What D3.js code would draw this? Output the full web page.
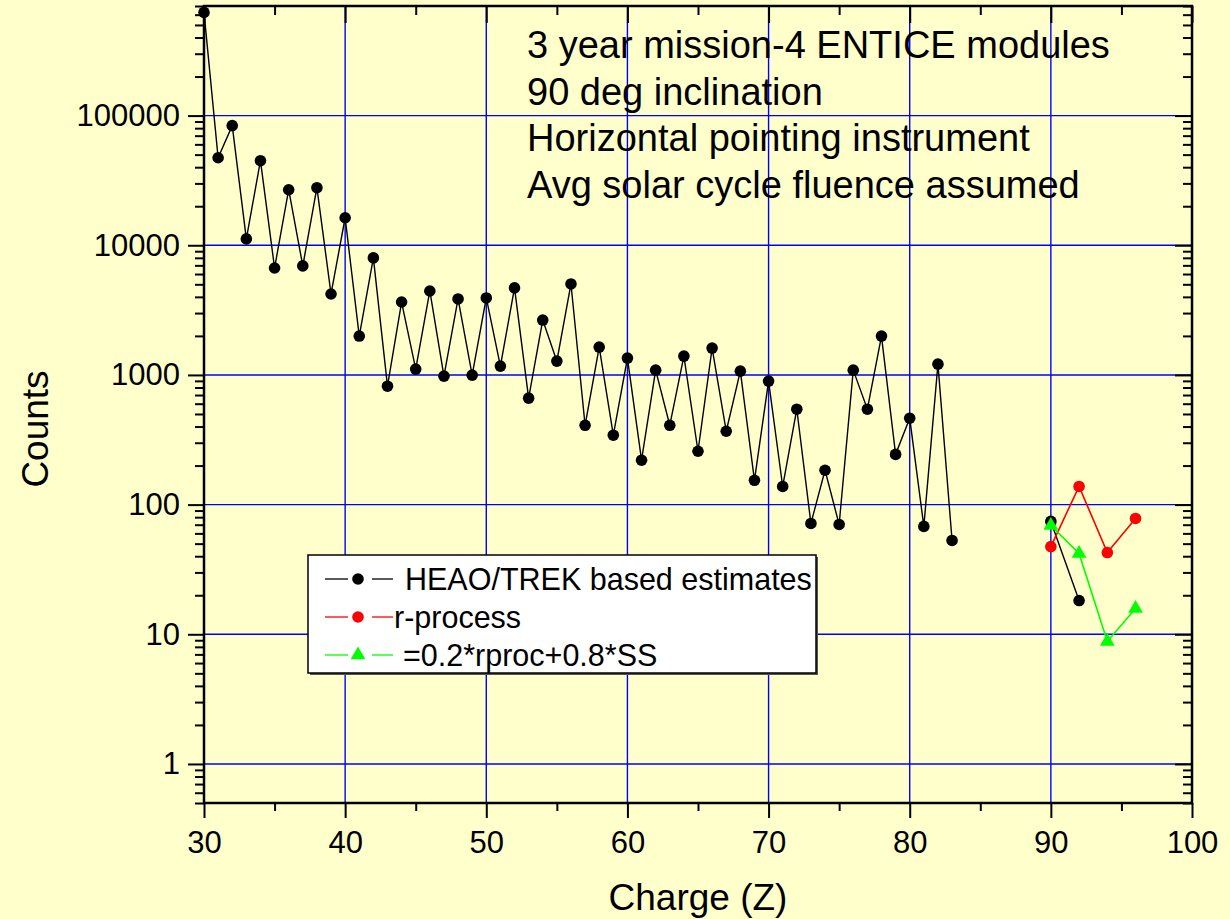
<!DOCTYPE html>
<html>
<head>
<meta charset="utf-8">
<script src="https://cdn.jsdelivr.net/npm/d3@7"></script>
<style>
  html, body { margin: 0; padding: 0; background: #ffffcc; }
  svg { display: block; font-family: "Liberation Sans", Arial, sans-serif; }
</style>
</head>
<body>
<div id="chart"></div>
<script>
// charge values (Z) and counts
var heaoZ = [30,31,32,33,34,35,36,37,38,39,40,41,42,43,44,45,46,47,48,49,50,51,52,53,54,55,56,57,58,59,
             60,61,62,63,64,65,66,67,68,69,70,71,72,73,74,75,76,77,78,79,80,81,82,83,90,92];
var heaoCounts = [625000,47300,83700,11200,44900,6680,26800,6930,27800,4210,16300,1995,7990,819,3650,1109,4440,979,3854,996,
                  3925,1170,4690,662,2650,1278,5030,409,1640,343,1349,220,1089,409,1397,258,1611,368,1070,154,
                  896,138,544,71.6,184,70.3,1089,544,1995,244,464,67.9,1211,52.9,74.2,18.2];
var rprocZ = [90,92,94,96];
var rprocCounts = [47.5,138,42.7,78.2];
var mixZ = [90,92,94,96];
var mixCounts = [69,42,8.8,15.8];

var xTicks = [30,40,50,60,70,80,90,100];
var xMinor = [35,45,55,65,75,85,95];
var yTicks = [1,10,100,1000,10000,100000];
var legendLabels = ["HEAO/TREK based estimates","r-process","=0.2*rproc+0.8*SS"];
var noteLines = ["3 year mission-4 ENTICE modules","90 deg inclination","Horizontal pointing instrument","Avg solar cycle fluence assumed"];

var width = 1230, height = 919;
var mLeft = 204, mRight = 1192, mTop = 6, mBottom = 803;

var svg = d3.select("#chart").append("svg")
    .attr("width", width).attr("height", height);

svg.append("rect").attr("width", width).attr("height", height).attr("fill", "#ffffcc");

var x = d3.scaleLinear().domain([30,100]).range([mLeft,mRight]);
var y = d3.scaleLog().domain([0.5,700000]).range([mBottom,mTop]);

// minor log ticks
var yMinor = [];
[0.1,1,10,100,1000,10000,100000].forEach(function(d){
    for (var k=2;k<=9;k++){ var v=+(d*k).toPrecision(3); if (v>=0.5 && v<=700000) yMinor.push(v); }
});

// grid
var grid = svg.append("g");
grid.selectAll(".gx").data(xTicks.slice(1,-1)).enter().append("line")
    .attr("x1", function(d){return x(d);}).attr("x2", function(d){return x(d);})
    .attr("y1", mTop).attr("y2", mBottom)
    .attr("stroke", "#0000ff").attr("stroke-width", 1.4);
grid.selectAll(".gy").data(yTicks).enter().append("line")
    .attr("x1", mLeft).attr("x2", mRight)
    .attr("y1", function(d){return y(d);}).attr("y2", function(d){return y(d);})
    .attr("stroke", "#0000ff").attr("stroke-width", 1.4);

var tickFont = function(g){
    g.selectAll("text").attr("font-size", 31).attr("fill", "#000").attr("font-family", "Liberation Sans, Arial, sans-serif");
    g.selectAll("line").attr("stroke", "#000").attr("stroke-width", 2);
    g.select(".domain").remove();
};

// bottom axis
svg.append("g").attr("transform","translate(0,"+mBottom+")")
    .call(d3.axisBottom(x).tickValues(xTicks).tickSize(15).tickPadding(13).tickFormat(d3.format("d")))
    .call(tickFont);
svg.append("g").attr("transform","translate(0,"+mBottom+")")
    .call(d3.axisBottom(x).tickValues(xMinor).tickSize(8).tickFormat(""))
    .call(tickFont);
// top axis (inward)
svg.append("g").attr("transform","translate(0,"+mTop+")")
    .call(d3.axisBottom(x).tickValues(xTicks).tickSize(17).tickFormat(""))
    .call(tickFont);
svg.append("g").attr("transform","translate(0,"+mTop+")")
    .call(d3.axisBottom(x).tickValues(xMinor).tickSize(9).tickFormat(""))
    .call(tickFont);
// left axis
svg.append("g").attr("transform","translate("+mLeft+",0)")
    .call(d3.axisLeft(y).tickValues(yTicks).tickSize(16).tickPadding(8).tickFormat(d3.format("d")))
    .call(tickFont);
svg.append("g").attr("transform","translate("+mLeft+",0)")
    .call(d3.axisLeft(y).tickValues(yMinor).tickSize(9).tickFormat(""))
    .call(tickFont);
// right axis (inward)
svg.append("g").attr("transform","translate("+mRight+",0)")
    .call(d3.axisLeft(y).tickValues(yTicks).tickSize(17).tickFormat(""))
    .call(tickFont);
svg.append("g").attr("transform","translate("+mRight+",0)")
    .call(d3.axisLeft(y).tickValues(yMinor).tickSize(9).tickFormat(""))
    .call(tickFont);

// frame
svg.append("rect").attr("x", mLeft).attr("y", mTop).attr("width", mRight-mLeft).attr("height", mBottom-mTop)
    .attr("fill", "none").attr("stroke", "#000").attr("stroke-width", 2.5);

// axis titles
svg.append("text").attr("x", 698).attr("y", 910).attr("text-anchor","middle")
    .attr("font-size", 37).text("Charge (Z)");
svg.append("text").attr("transform","translate(48,429) rotate(-90)").attr("text-anchor","middle")
    .attr("font-size", 37).text("Counts");

// annotation
svg.append("g").selectAll("text").data(noteLines).enter().append("text")
    .attr("x", 527).attr("y", function(d,i){return 58 + i*46.5;})
    .attr("font-size", 38).text(function(d){return d;});

// series
function pts(zs, cs){ return zs.map(function(z,i){return {z:z, c:cs[i]};}); }
var line = d3.line().x(function(d){return x(d.z);}).y(function(d){return y(d.c);});

function segments(p){
    var out = [], cur = [p[0]];
    for (var i=1;i<p.length;i++){
        if (p[i].z - p[i-1].z > 2){ out.push(cur); cur = []; }
        cur.push(p[i]);
    }
    out.push(cur);
    return out;
}

var heao = pts(heaoZ, heaoCounts), rproc = pts(rprocZ, rprocCounts), mix = pts(mixZ, mixCounts);

var series = [
    {data: heao, color: "#000000", width: 1.4, shape: "circle"},
    {data: rproc, color: "#ff0000", width: 1.6, shape: "circle"},
    {data: mix, color: "#00ff00", width: 1.6, shape: "triangle"}
];

var plot = svg.append("g");
series.forEach(function(s){
    plot.append("g").selectAll("path").data(segments(s.data)).enter().append("path")
        .attr("d", line).attr("fill","none").attr("stroke", s.color).attr("stroke-width", s.width);
});
series.forEach(function(s){
    var g = plot.append("g");
    if (s.shape === "circle"){
        g.selectAll("circle").data(s.data).enter().append("circle")
            .attr("cx", function(d){return x(d.z);}).attr("cy", function(d){return y(d.c);})
            .attr("r", 5.8).attr("fill", s.color);
    } else {
        g.selectAll("path").data(s.data).enter().append("path")
            .attr("transform", function(d){return "translate("+x(d.z)+","+y(d.c)+")";})
            .attr("d", d3.symbol().type(d3.symbolTriangle).size(95)).attr("fill", s.color);
    }
});

// legend
var lg = svg.append("g");
lg.append("rect").attr("x", 310).attr("y", 557).attr("width", 508).attr("height", 118).attr("fill", "#555");
lg.append("rect").attr("x", 308).attr("y", 555).attr("width", 508).attr("height", 118)
    .attr("fill", "#fff").attr("stroke", "#000").attr("stroke-width", 1.5);
var rowY = [579, 617, 655];
var textX = [405, 394, 403];
series.forEach(function(s, i){
    var r = lg.append("g");
    r.append("line").attr("x1",325).attr("x2",348).attr("y1",rowY[i]).attr("y2",rowY[i]).attr("stroke",s.color).attr("stroke-width",1.3);
    r.append("line").attr("x1",372).attr("x2",393).attr("y1",rowY[i]).attr("y2",rowY[i]).attr("stroke",s.color).attr("stroke-width",1.3);
    if (s.shape === "circle"){
        r.append("circle").attr("cx",358).attr("cy",rowY[i]).attr("r",5.8).attr("fill",s.color);
    } else {
        r.append("path").attr("transform","translate(358,"+rowY[i]+")")
            .attr("d", d3.symbol().type(d3.symbolTriangle).size(95)).attr("fill", s.color);
    }
    r.append("text").attr("x", textX[i]).attr("y", rowY[i]+11).attr("font-size", 30.5).text(legendLabels[i]);
});
</script>
</body>
</html>
